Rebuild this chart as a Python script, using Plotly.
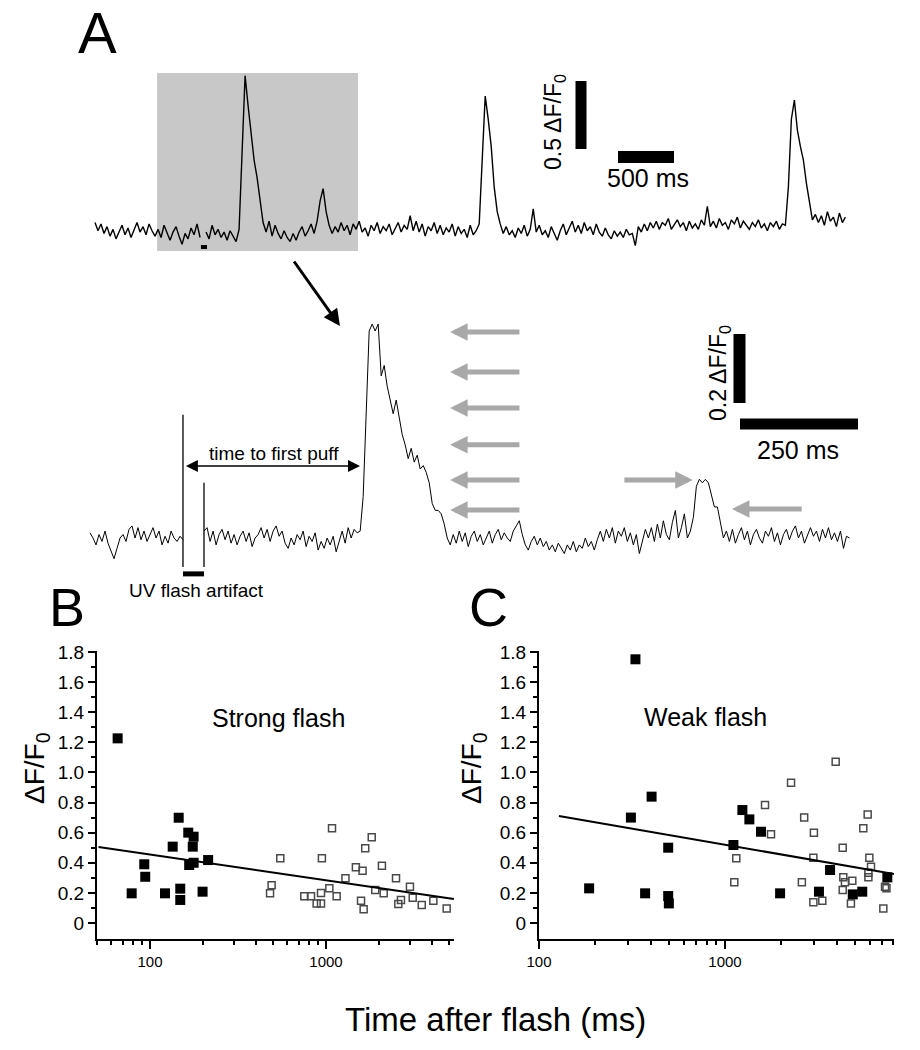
import math
import plotly.graph_objects as go

W, H = 920, 1050
PAGE_OFF = 8          # the page body margin puts the figure 8 px right/down
FONT = "Liberation Sans, Arial, Helvetica, sans-serif"

# ---------------- DATA ----------------
# Panel A (top): long recording, dF/F0 sampled every TOP_DT_MS
TOP_DT_MS = 26.8
top_trace = [
    0.04, -0.02, 0.03, -0.04, 0.01, -0.06, -0.01, -0.08, -0.03, 0.02, -0.05, 0.00, -0.07, -0.02, 0.04, -0.03, 0.01, -0.05, 0.03, -0.02, -0.06,
    -0.01, -0.07, 0.02, -0.04, -0.09, -0.03, 0.01, -0.06, -0.12, -0.04, -0.08, 0.00, -0.05, 0.03, -0.07,
    None,
    -0.03, -0.08, 0.02, -0.05, -0.01, -0.07, -0.03, -0.09, -0.02, -0.06, -0.10, -0.01,
    0.55, 1.12, 0.90, 0.68, 0.50, 0.37, 0.20, 0.04,
    -0.03, 0.05, -0.06, 0.02, -0.04, -0.08, -0.02, -0.07, -0.10, -0.04, -0.09, -0.03, 0.01, -0.06, -0.02, 0.03, -0.04,
    0.05, 0.20, 0.29, 0.12, 0.02,
    -0.04, 0.01, -0.03, 0.04, -0.02, 0.02, -0.05, 0.03, -0.01, 0.05,
    -0.03, 0.00, -0.06, 0.02, -0.02, 0.04, -0.04, 0.01, -0.02, 0.03,
    -0.05, 0.00, 0.04, -0.03, 0.02, -0.01, 0.09, -0.02, 0.05, -0.03,
    0.03, -0.06, 0.01, -0.02, 0.04, -0.04, 0.02, -0.05, 0.00, -0.03,
    0.03, -0.06, 0.01, -0.04, -0.01, -0.07, 0.02, -0.05, -0.02, 0.03,
    0.50, 0.97, 0.80, 0.60, 0.30, 0.12, 0.03,
    -0.04, 0.01, -0.05, -0.02, -0.07, 0.00, -0.04, 0.02, -0.06, -0.01, 0.14, -0.03, 0.02, -0.05, -0.02,
    -0.07, 0.01, -0.04, -0.09, -0.02, 0.03, -0.05, 0.00, 0.05, -0.03, 0.02, -0.04, 0.04, -0.02, 0.01, -0.05, 0.03, -0.03, -0.06, 0.00,
    -0.05, -0.08, -0.02, -0.06, -0.03, -0.07, -0.01, -0.05, -0.04, -0.13, 0.01, -0.03, 0.03, -0.02, 0.04,
    0.00, 0.05, -0.01, 0.04, 0.02, 0.07, -0.01, 0.03, 0.06, 0.01, 0.04, -0.02, 0.05, 0.00, 0.03, -0.01, 0.06, 0.02, 0.16, 0.01,
    0.05, 0.00, 0.07, 0.02, 0.04, -0.01, 0.06, 0.03, 0.08, 0.00, 0.05, 0.02, -0.01, 0.04, 0.01, 0.06, 0.00, 0.03, -0.02, 0.04, 0.01, 0.05, -0.01, 0.03, 0.02,
    0.30, 0.80, 0.94, 0.72, 0.60, 0.50, 0.33, 0.18, 0.06,
    0.10, 0.04, 0.09, 0.02, 0.12, 0.05, 0.08, 0.01, 0.11, 0.04, 0.08,
]
ZOOM_WINDOW_MS = (554, 2348)        # grey box on the top trace
ZOOM_WINDOW_DF = (-0.17, 1.14)
TOP_FLASH_MARK_MS = (946, 1000)
TOP_FLASH_MARK_DF = -0.14

# Panel A (middle): expanded view, sampled every MID_DT_MS
MID_DT_MS = 6.36
mid_trace = [
    0.015, 0.0, -0.02, 0.01, -0.01, 0.02, -0.015, -0.035, -0.06, -0.03, 0.0, 0.01, -0.01, 0.025, 0.035, 0.0,
    0.03, -0.005, 0.02, -0.01, 0.01, 0.03, 0.0, 0.02, -0.02, 0.005, -0.015, 0.02, 0.0, -0.01, 0.005,
    -0.005,
    None, None, None, None, None, None,
    0.02,
    0.03, -0.01, 0.02, -0.02, 0.01, 0.025, -0.005, 0.02, -0.015, 0.01,
    -0.02, 0.005, 0.02, -0.01, 0.015, -0.025, 0.0, 0.01, 0.03, 0.0,
    0.025, -0.01, 0.02, 0.035, 0.005, 0.02, -0.015, -0.03, 0.0, -0.02,
    0.01, -0.005, 0.02, -0.025, 0.005, -0.01, 0.015, -0.035, -0.01, -0.03,
    0.0, -0.02, 0.005, -0.04, -0.01, 0.02, -0.015, 0.03, 0.0, 0.025,
    0.015,
    0.02, 0.12, 0.35, 0.60, 0.62, 0.60, 0.62, 0.47, 0.50, 0.44, 0.40, 0.36, 0.40, 0.35, 0.30,
    0.27, 0.23, 0.26, 0.22, 0.24, 0.20, 0.21, 0.19, 0.16, 0.10, 0.08, 0.08, 0.07, 0.04, 0.0,
    -0.02, 0.01, -0.015, 0.02, -0.01, 0.015, -0.025, 0.005, 0.02, -0.01,
    0.01, -0.02, 0.0, 0.02, -0.015, 0.01, 0.025, -0.005, 0.015, 0.0,
    -0.01, 0.02, 0.035, 0.05, 0.01, -0.02, -0.035, -0.01, 0.005, -0.02,
    0.0, -0.025, -0.01, -0.035, -0.02, -0.04, -0.015, -0.03, -0.045, -0.02,
    -0.035, -0.01, -0.04, -0.02, -0.03, 0.0, -0.025, -0.01, -0.035, -0.005,
    0.02, -0.01, 0.025, 0.0, 0.03, -0.015, 0.02, 0.005, 0.03, -0.01,
    0.015, -0.02, 0.01, -0.045, -0.01, 0.025, 0.0, 0.03, -0.01, 0.04,
    0.0, 0.05, 0.01, -0.005, 0.045, 0.08, 0.0, 0.03, 0.07, 0.0, 0.02,
    0.06, 0.15, 0.17, 0.16, 0.17, 0.16, 0.12, 0.09, 0.09, 0.05, 0.0,
    0.02, -0.01, 0.025, -0.015, 0.01, 0.03, -0.005, 0.02, -0.02, 0.01,
    0.025, 0.0, -0.015, 0.02, 0.005, 0.03, -0.01, 0.015, -0.02, 0.01,
    0.025, -0.005, 0.02, 0.035, 0.0, 0.02, -0.015, 0.01, 0.03, 0.005,
    0.02, -0.01, 0.025, 0.0, 0.03, -0.005, 0.015, -0.01, 0.02, -0.03, 0.005, 0.0,
]
FLASH_ON_MS = 197
FLASH_OFF_MS = 241.5
FLASH_ART_TOP = [0.357, 0.16]
FLASH_ART_BOTTOM = -0.084
FLASH_BAR_DF = -0.104
FIRST_PUFF_MS = 576
puff_levels = [0.597, 0.481, 0.377, 0.270, 0.168, 0.081]
PUFF_ARROW_MS = (763, 913)            # tip, tail
SMALL_PUFF_ARROWS = [                  # (tip_ms, tail_ms, level)
    (1277, 1129, 0.168),
    (1360, 1511, 0.084),
]

# Panel B: strong flash
b_filled_ms = [65.5, 78.7, 92.8, 94, 121.7, 134.6, 145.6, 148.6, 148.6, 165, 177, 175, 167, 177, 199, 214]
b_filled_df = [1.226, 0.197, 0.39, 0.307, 0.197, 0.507, 0.699, 0.228, 0.153, 0.60, 0.573, 0.507, 0.385, 0.40, 0.208, 0.418]
b_open_ms = [1082, 1820, 1671, 550, 948, 1479, 1614, 2079, 2500, 1290, 491, 481, 753, 822, 937,
             1045, 1150, 885, 937, 1582, 1637, 1905, 2128, 3000, 3110, 2667, 2576, 3500, 4074, 4850]
b_open_df = [0.629, 0.569, 0.496, 0.43, 0.43, 0.37, 0.347, 0.38, 0.297, 0.297, 0.25, 0.197, 0.177, 0.177, 0.20,
             0.23, 0.177, 0.13, 0.13, 0.148, 0.091, 0.219, 0.197, 0.241, 0.168, 0.153, 0.126, 0.12, 0.148, 0.097]
b_fit = (0.797, -0.171)     # dF/F0 = a + b*log10(t)
b_fit_span = (51, 5330)

# Panel C: weak flash
c_filled_ms = [186, 330, 312, 403, 372, 495, 495, 499, 1110, 1240, 1352, 1562, 1978, 3200, 3672, 4864, 5470, 7460]
c_filled_df = [0.23, 1.751, 0.70, 0.839, 0.197, 0.50, 0.179, 0.13, 0.518, 0.75, 0.688, 0.606, 0.197, 0.208, 0.352, 0.19, 0.208, 0.303]
c_open_ms = [1122, 1150, 1641, 1767, 2265, 2590, 2665, 3006, 2986, 2986, 3335, 3936, 4294, 4325, 4415, 4294,
             4835, 4753, 5540, 5850, 5972, 6095, 5900, 5900, 7100, 7250, 7380]
c_open_df = [0.27, 0.43, 0.784, 0.59, 0.932, 0.27, 0.70, 0.60, 0.434, 0.137, 0.148, 1.071, 0.50, 0.303, 0.27, 0.219,
             0.281, 0.13, 0.629, 0.72, 0.434, 0.374, 0.334, 0.303, 0.097, 0.241, 0.23]
c_fit = (1.160, -0.2134)
c_fit_span = (128, 8100)

y_ticks = [0, 0.2, 0.4, 0.6, 0.8, 1.0, 1.2, 1.4, 1.6, 1.8]
y_ticktext = ["0", "0.2", "0.4", "0.6", "0.8", "1.0", "1.2", "1.4", "1.6", "1.8"]
y_minor = [0.1, 0.3, 0.5, 0.7, 0.9, 1.1, 1.3, 1.5, 1.7]
x_ticks = [100, 1000]
x_ticktext = ["100", "1000"]
b_x_minor = [50, 60, 70, 80, 90, 200, 300, 400, 500, 600, 700, 800, 900, 2000, 3000, 4000, 5000]
c_x_minor = [200, 300, 400, 500, 600, 700, 800, 900, 2000, 3000, 4000, 5000, 6000, 7000, 8000]

# ---------------- geometry (page pixel layout) ----------------
def fx(p):
    return (p - PAGE_OFF) / W

def fy(p):
    return 1 - (p - PAGE_OFF) / H

LEFT_PX, RIGHT_PX = PAGE_OFF, PAGE_OFF + W
S1 = 500 / 56; V1 = 0.5 / 68; T1_PX = 95; B1_PX = 228
S2 = 250 / 118; V2 = 0.2 / 69; T2_PX = 90; B2_PX = 538

fig = go.Figure()

# top trace
top_t = [i * TOP_DT_MS for i in range(len(top_trace))]
fig.add_trace(go.Scatter(x=top_t, y=top_trace, mode="lines", line=dict(color="black", width=1.4),
                         connectgaps=False, xaxis="x", yaxis="y", hoverinfo="skip"))
fig.add_trace(go.Scatter(x=list(TOP_FLASH_MARK_MS), y=[TOP_FLASH_MARK_DF] * 2, mode="lines",
                         line=dict(color="black", width=4), xaxis="x", yaxis="y"))

# middle trace
mid_t = [i * MID_DT_MS for i in range(len(mid_trace))]
fig.add_trace(go.Scatter(x=mid_t, y=mid_trace, mode="lines", line=dict(color="black", width=1),
                         connectgaps=False, xaxis="x2", yaxis="y2", hoverinfo="skip"))
fig.add_trace(go.Scatter(x=[FLASH_ON_MS, FLASH_ON_MS, None, FLASH_OFF_MS, FLASH_OFF_MS],
                         y=[FLASH_ART_TOP[0], FLASH_ART_BOTTOM, None, FLASH_ART_TOP[1], FLASH_ART_BOTTOM],
                         mode="lines", line=dict(color="black", width=1.3), xaxis="x2", yaxis="y2"))
fig.add_trace(go.Scatter(x=[FLASH_ON_MS, FLASH_OFF_MS], y=[FLASH_BAR_DF] * 2, mode="lines",
                         line=dict(color="black", width=5), xaxis="x2", yaxis="y2"))

# scatter panels
def fit_line(fit, span):
    a, b = fit
    return list(span), [a + b * math.log10(v) for v in span]

for xs, ys, xa, ya in [(b_open_ms, b_open_df, "x3", "y3"), (c_open_ms, c_open_df, "x4", "y4")]:
    fig.add_trace(go.Scatter(x=xs, y=ys, mode="markers", xaxis=xa, yaxis=ya,
                             marker=dict(symbol="square-open", size=7, color="#4a4a4a", line=dict(width=1.5, color="#4a4a4a"))))
for xs, ys, xa, ya in [(b_filled_ms, b_filled_df, "x3", "y3"), (c_filled_ms, c_filled_df, "x4", "y4")]:
    fig.add_trace(go.Scatter(x=xs, y=ys, mode="markers", xaxis=xa, yaxis=ya,
                             marker=dict(symbol="square", size=10, color="black", line=dict(width=0))))
for fit, span, xa, ya in [(b_fit, b_fit_span, "x3", "y3"), (c_fit, c_fit_span, "x4", "y4")]:
    lx, ly = fit_line(fit, span)
    fig.add_trace(go.Scatter(x=lx, y=ly, mode="lines", xaxis=xa, yaxis=ya, line=dict(color="black", width=2)))

# ---------------- axes ----------------
hidden = dict(visible=False, showgrid=False, zeroline=False, fixedrange=True, automargin=False)
fig.update_layout(
    xaxis=dict(domain=[0, 1], range=[(LEFT_PX - T1_PX) * S1, (RIGHT_PX - T1_PX) * S1], anchor="y", **hidden),
    yaxis=dict(domain=[fy(300), fy(40)], range=[(B1_PX - 300) * V1, (B1_PX - 40) * V1], anchor="x", **hidden),
    xaxis2=dict(domain=[0, 1], range=[(LEFT_PX - T2_PX) * S2, (RIGHT_PX - T2_PX) * S2], anchor="y2", **hidden),
    yaxis2=dict(domain=[fy(600), fy(300)], range=[(B2_PX - 600) * V2, (B2_PX - 300) * V2], anchor="x2", **hidden),
)

def yax(domain_x_anchor):
    return dict(domain=[fy(939), fy(651)], range=[-16 / 150.6, 272 / 150.6], anchor=domain_x_anchor,
                automargin=False,
                tickmode="array", tickvals=y_ticks, ticktext=y_ticktext, ticks="outside", ticklen=7,
                tickwidth=1.5, tickcolor="black", showline=True, linewidth=2, linecolor="black",
                showgrid=False, zeroline=False, tickfont=dict(family=FONT, size=19, color="black"),
                minor=dict(tickmode="array", tickvals=y_minor, ticks="outside", ticklen=4, tickwidth=1.5,
                           tickcolor="black", showgrid=False))

def xax(domain, rng, minor_vals, anchor):
    return dict(type="log", domain=domain, range=rng, anchor=anchor, automargin=False,
                tickmode="array", tickvals=x_ticks,
                ticktext=x_ticktext, ticks="outside", ticklen=8, tickwidth=1.5, tickcolor="black",
                showline=True, linewidth=2, linecolor="black", showgrid=False, zeroline=False,
                tickfont=dict(family=FONT, size=15, color="black"),
                minor=dict(tickmode="array", tickvals=minor_vals, ticks="outside", ticklen=4, tickwidth=1.5,
                           tickcolor="black", showgrid=False))

fig.update_layout(
    xaxis3=xax([fx(97), fx(454)], [math.log10(50), math.log10(50) + 357 / 176], b_x_minor, "y3"),
    yaxis3=yax("x3"),
    xaxis4=xax([fx(539), fx(894)], [2, 2 + 355 / 186], c_x_minor, "y4"),
    yaxis4=yax("x4"),
)

# ---------------- shapes ----------------
shapes = [
    dict(type="rect", xref="x", yref="y", x0=ZOOM_WINDOW_MS[0], x1=ZOOM_WINDOW_MS[1],
         y0=ZOOM_WINDOW_DF[0], y1=ZOOM_WINDOW_DF[1], fillcolor="#c8c8c8", line=dict(width=0), layer="below"),
    # top scale bars
    dict(type="line", xref="x", yref="y", x0=(581 - T1_PX) * S1, x1=(581 - T1_PX) * S1,
         y0=(B1_PX - 149) * V1, y1=(B1_PX - 149) * V1 + 0.5, line=dict(color="black", width=11)),
    dict(type="line", xref="x", yref="y", x0=(618 - T1_PX) * S1, x1=(618 - T1_PX) * S1 + 500,
         y0=(B1_PX - 157) * V1, y1=(B1_PX - 157) * V1, line=dict(color="black", width=12)),
    # middle scale bars
    dict(type="line", xref="x2", yref="y2", x0=(739.5 - T2_PX) * S2, x1=(739.5 - T2_PX) * S2,
         y0=(B2_PX - 403) * V2, y1=(B2_PX - 403) * V2 + 0.2, line=dict(color="black", width=12)),
    dict(type="line", xref="x2", yref="y2", x0=(740 - T2_PX) * S2, x1=(740 - T2_PX) * S2 + 250,
         y0=(B2_PX - 424) * V2, y1=(B2_PX - 424) * V2, line=dict(color="black", width=11)),
]
fig.update_layout(shapes=shapes)

# ---------------- annotations ----------------
def txt(x, y, s, size, angle=0):
    return dict(xref="paper", yref="paper", x=fx(x), y=fy(y), text=s, showarrow=False, textangle=angle,
                xanchor="center", yanchor="middle", font=dict(family=FONT, size=size, color="black"))

ann = [
    txt(97, 32, "A", 58), txt(67, 607, "B", 54), txt(488, 607, "C", 54),
    txt(555, 122, "0.5 ΔF/F<sub>0</sub>", 23, -90), txt(648, 178, "500 ms", 25),
    txt(719, 373, "0.2 ΔF/F<sub>0</sub>", 23, -90), txt(798, 450, "250 ms", 25),
    txt(274, 453, "time to first puff", 19), txt(196, 590, "UV flash artifact", 19),
    txt(278, 718, "Strong flash", 25), txt(705, 717, "Weak flash", 25),
    txt(36, 768, "ΔF/F<sub>0</sub>", 28, -90), txt(473, 768, "ΔF/F<sub>0</sub>", 28, -90),
    txt(495, 1019, "Time after flash (ms)", 33),
]
# black arrow from grey box to the expanded trace
ann.append(dict(xref="paper", yref="paper", x=fx(340), y=fy(326), ax=293 - 340, ay=260 - 326, text="",
                showarrow=True, arrowhead=2, arrowsize=1.1, arrowwidth=3, arrowcolor="black", standoff=0))
# time to first puff double arrow
ann.append(dict(xref="x2", yref="y2", axref="x2", ayref="y2", x=FIRST_PUFF_MS - 4, y=(B2_PX - 466) * V2,
                ax=FLASH_ON_MS + 3, ay=(B2_PX - 466) * V2, text="", showarrow=True, arrowside="end+start",
                arrowhead=2, startarrowhead=2, arrowsize=1.6, startarrowsize=1.6, arrowwidth=1.5,
                arrowcolor="black", standoff=0, startstandoff=0))
GREY = "#a8a8a8"
for lvl in puff_levels:
    ann.append(dict(xref="x2", yref="y2", axref="x2", ayref="y2", x=PUFF_ARROW_MS[0], y=lvl,
                    ax=PUFF_ARROW_MS[1], ay=lvl, text="", showarrow=True, arrowhead=2, arrowsize=0.7,
                    arrowwidth=5, arrowcolor=GREY, standoff=0))
for tip, tail, lvl in SMALL_PUFF_ARROWS:
    ann.append(dict(xref="x2", yref="y2", axref="x2", ayref="y2", x=tip, y=lvl, ax=tail, ay=lvl, text="",
                    showarrow=True, arrowhead=2, arrowsize=0.7, arrowwidth=5, arrowcolor=GREY, standoff=0))
fig.update_layout(annotations=ann)

fig.update_layout(template="none", width=W, height=H, autosize=False, margin=dict(l=0, r=0, t=0, b=0, pad=0),
                  paper_bgcolor="white", plot_bgcolor="white", showlegend=False,
                  font=dict(family=FONT, color="black"))

fig.write_html("out.html")
